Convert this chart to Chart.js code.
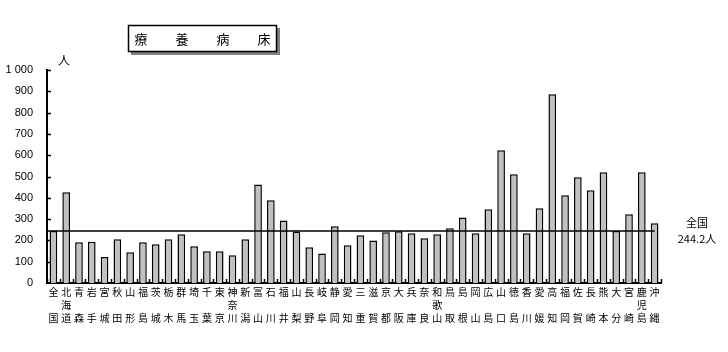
<!DOCTYPE html>
<html><head><meta charset="utf-8">
<script src="https://cdn.jsdelivr.net/npm/chart.js@4/dist/chart.umd.min.js"></script>
<style>html,body{margin:0;padding:0;background:#fff;}#wrap{width:728px;height:352px;position:relative;}</style>
</head><body><div id="wrap"><canvas id="c" width="728" height="352"></canvas></div>
<script>
const categories = [
 ['全','','国'],['北','海','道'],['青','','森'],['岩','','手'],['宮','','城'],['秋','','田'],['山','','形'],['福','','島'],
 ['茨','','城'],['栃','','木'],['群','','馬'],['埼','','玉'],['千','','葉'],['東','','京'],['神','奈','川'],['新','','潟'],
 ['富','','山'],['石','','川'],['福','','井'],['山','','梨'],['長','','野'],['岐','','阜'],['静','','岡'],['愛','','知'],
 ['三','','重'],['滋','','賀'],['京','','都'],['大','','阪'],['兵','','庫'],['奈','','良'],['和','歌','山'],['鳥','','取'],
 ['島','','根'],['岡','','山'],['広','','島'],['山','','口'],['徳','','島'],['香','','川'],['愛','','媛'],['高','','知'],
 ['福','','岡'],['佐','','賀'],['長','','崎'],['熊','','本'],['大','','分'],['宮','','崎'],['鹿','児','島'],['沖','','縄']
];
const bedsPer100k = [
 244.2,426,191,194,122,205,144,191,
 182,205,229,172,149,149,130,205,
 463,388,294,242,168,138,266,177,
 224,200,238,243,233,210,229,257,
 308,233,346,623,510,233,351,886,
 412,496,435,520,244,323,520,280
];
const nationalAvg = 244.2;
const yTicks = [0,100,200,300,400,500,600,700,800,900,1000];
const titleChars = ['療','養','病','床'];
const unitLabel = '人';
const avgLabel = ['全国', '244.2人'];

const JP = '"Noto Sans CJK JP", sans-serif';

const overlay = {
  id: 'overlay',
  afterDraw(chart) {
    const ctx = chart.ctx, x = chart.scales.x, y = chart.scales.y, a = chart.chartArea;
    ctx.save();
    ctx.strokeStyle = '#000';
    ctx.lineWidth = 1.5;
    yTicks.forEach(v => {
      if (v === 0) return;
      const py = Math.round(y.getPixelForValue(v)) + 0.5;
      ctx.beginPath(); ctx.moveTo(a.left, py); ctx.lineTo(a.left + 4, py); ctx.stroke();
    });
    const n = categories.length, w = (a.right - a.left) / n;
    for (let i = 0; i <= n; i++) {
      const px = Math.round(a.left + i * w) + 0.5;
      ctx.beginPath(); ctx.moveTo(px, a.bottom); ctx.lineTo(px, a.bottom - 4); ctx.stroke();
    }
    const ly = y.getPixelForValue(nationalAvg);
    ctx.lineWidth = 1.5;
    ctx.beginPath(); ctx.moveTo(a.left, ly); ctx.lineTo(x.getPixelForValue(n - 1), ly); ctx.stroke();
    ctx.fillStyle = '#000';
    ctx.font = '11px ' + JP;
    ctx.textAlign = 'center'; ctx.textBaseline = 'middle';
    ctx.fillText(avgLabel[0], 697, ly - 8);
    ctx.fillText(avgLabel[1], 697, ly + 8);
    ctx.font = '12px ' + JP;
    ctx.fillText(unitLabel, 64, 60);
    ctx.fillStyle = '#808080';
    ctx.fillRect(131, 28, 149, 27);
    ctx.fillStyle = '#fff';
    ctx.fillRect(128, 25, 149, 27);
    ctx.lineWidth = 1.5;
    ctx.strokeRect(128.5, 25.5, 148, 26);
    ctx.fillStyle = '#000';
    ctx.font = '13px ' + JP;
    const tx = [141, 182, 223, 264];
    titleChars.forEach((c, i) => ctx.fillText(c, tx[i], 39));
    ctx.restore();
  }
};

new Chart(document.getElementById('c'), {
  type: 'bar',
  data: {
    labels: categories,
    datasets: [{
      data: bedsPer100k,
      backgroundColor: '#c0c0c0',
      borderColor: '#000',
      borderWidth: 1.5,
      barPercentage: 0.6,
      categoryPercentage: 1.0
    }]
  },
  options: {
    responsive: false,
    animation: false,
    layout: { padding: { left: 0, right: 67, top: 70, bottom: 0 } },
    plugins: { legend: { display: false }, tooltip: { enabled: false }, title: { display: false } },
    scales: {
      x: {
        grid: { display: false, drawTicks: false },
        border: { display: true, color: '#000', width: 2 },
        ticks: {
          color: '#000', autoSkip: false, maxRotation: 0, minRotation: 0, padding: 3,
          font: { family: JP, size: 10, lineHeight: 1.3 }
        },
        afterFit(s) { s.height = 69; }
      },
      y: {
        min: 0, max: 1000,
        grid: { display: false, drawTicks: false },
        border: { display: true, color: '#000', width: 2 },
        afterBuildTicks(s) { s.ticks = yTicks.map(v => ({ value: v })); },
        ticks: {
          color: '#000', padding: 14,
          font: { family: '"Liberation Sans", Arial, sans-serif', size: 11 },
          callback: v => v >= 1000 ? String(v).replace(/(\d)(\d{3})$/, '$1 $2') : String(v)
        },
        afterFit(s) { s.width = 47; }
      }
    }
  },
  plugins: [overlay]
});
</script>
</body></html>
